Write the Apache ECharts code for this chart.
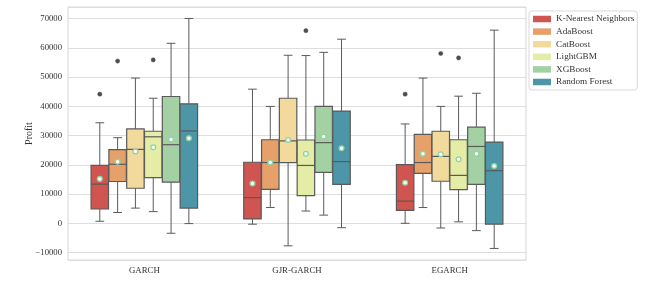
<!DOCTYPE html>
<html>
<head>
<meta charset="utf-8">
<script src="https://cdn.jsdelivr.net/npm/echarts@6/dist/echarts.min.js"></script>
<style>
html,body{margin:0;padding:0;background:#fff;}
#chart{width:662px;height:291px;}
</style>
</head>
<body>
<div id="chart"></div>
<script>
// ---- data ----
const categories = ['GARCH', 'GJR-GARCH', 'EGARCH'];
const models = ['K-Nearest Neighbors', 'AdaBoost', 'CatBoost', 'LightGBM', 'XGBoost', 'Random Forest'];
const colors = ['#d0544f', '#e5a169', '#f2da9c', '#e4eca5', '#a4d1a4', '#4c96a8'];

// [lower whisker, Q1, median, Q3, upper whisker] per category
const knnStats = [[700, 4900, 13400, 19800, 34400], [-300, 1500, 8800, 20900, 45900], [0, 4400, 7600, 20100, 34000]];
const adaStats = [[3700, 14300, 20200, 25200, 29300], [5400, 11600, 20800, 28600, 40000], [5400, 17100, 20800, 30400, 49700]];
const catStats = [[5200, 12000, 25300, 32300, 49700], [-7700, 20800, 28200, 42800, 57500], [-1600, 14400, 22900, 31500, 40000]];
const lgbmStats = [[4000, 15600, 29600, 31500, 42800], [4200, 9500, 19800, 28500, 57400], [500, 11500, 16400, 28600, 43500]];
const xgbStats = [[-3400, 14100, 26900, 43400, 61600], [2800, 17400, 27600, 40000, 58500], [-2500, 13300, 26300, 32900, 44500]];
const rfStats = [[-100, 5200, 31600, 40900, 70100], [-1500, 13300, 21100, 38400, 63000], [-8600, -300, 18000, 27800, 66100]];

const knnMeans = [15200, 13600, 13900];
const adaMeans = [21100, 20800, 23800];
const catMeans = [24600, 28500, 23600];
const lgbmMeans = [26000, 23800, 21900];
const xgbMeans = [28700, 29700, 23800];
const rfMeans = [29100, 25700, 19600];

// outliers: [category index, value]
const knnOutliers = [[0, 44200], [2, 44200]];
const adaOutliers = [[0, 55500]];
const catOutliers = [[2, 58100]];
const lgbmOutliers = [[0, 55900], [1, 65900], [2, 56600]];
const xgbOutliers = [];
const rfOutliers = [];

const yTicks = [-10000, 0, 10000, 20000, 30000, 40000, 50000, 60000, 70000];

const allStats = [knnStats, adaStats, catStats, lgbmStats, xgbStats, rfStats];
const allMeans = [knnMeans, adaMeans, catMeans, lgbmMeans, xgbMeans, rfMeans];
const allOutliers = [knnOutliers, adaOutliers, catOutliers, lgbmOutliers, xgbOutliers, rfOutliers];

const FONT = "'Liberation Serif', 'Times New Roman', serif";
const EDGE = '#5a5a5a';
const N = models.length;
const GROUP = 0.7;

function slotInfo(api, cat, hue) {
  const band = api.size([1, 0])[0];
  const slot = band * GROUP / N;
  const cx = api.coord([cat, 0])[0] + (hue - (N - 1) / 2) * slot;
  return { cx: cx, w: slot * 0.98 };
}

function boxRenderer(hue) {
  return function (params, api) {
    const cat = api.value(0);
    const s = slotInfo(api, cat, hue);
    const y = k => api.coord([cat, api.value(k)])[1];
    const yMin = y(1), yQ1 = y(2), yMed = y(3), yQ3 = y(4), yMax = y(5);
    const half = s.w / 2, cap = s.w / 4;
    const lineStyle = { stroke: EDGE, lineWidth: 1 };
    return {
      type: 'group',
      children: [
        { type: 'line', shape: { x1: s.cx, y1: yQ3, x2: s.cx, y2: yMax }, style: lineStyle },
        { type: 'line', shape: { x1: s.cx, y1: yQ1, x2: s.cx, y2: yMin }, style: lineStyle },
        { type: 'line', shape: { x1: s.cx - cap, y1: yMax, x2: s.cx + cap, y2: yMax }, style: lineStyle },
        { type: 'line', shape: { x1: s.cx - cap, y1: yMin, x2: s.cx + cap, y2: yMin }, style: lineStyle },
        { type: 'rect', shape: { x: s.cx - half, y: yQ3, width: s.w, height: yQ1 - yQ3 },
          style: { fill: colors[hue], stroke: EDGE, lineWidth: 1.2 } },
        { type: 'line', shape: { x1: s.cx - half, y1: yMed, x2: s.cx + half, y2: yMed },
          style: { stroke: EDGE, lineWidth: 1.2 } }
      ]
    };
  };
}

function pointRenderer(kind) {
  return function (params, api) {
    const cat = api.value(0), hue = api.value(1);
    const s = slotInfo(api, cat, hue);
    const p = api.coord([cat, api.value(2)]);
    if (kind === 'mean') {
      return { type: 'circle', shape: { cx: s.cx, cy: p[1], r: 2.4 },
        style: { fill: '#ffffff', stroke: '#8fd3a2', lineWidth: 1.3 } };
    }
    return { type: 'circle', shape: { cx: s.cx, cy: p[1], r: 2.1 },
      style: { fill: '#4d4d4d', stroke: '#4d4d4d', lineWidth: 0.5 } };
  };
}

const series = [];
models.forEach((name, h) => {
  series.push({
    name: name,
    type: 'custom',
    renderItem: boxRenderer(h),
    itemStyle: { color: colors[h] },
    encode: { x: 0, y: [1, 2, 3, 4, 5] },
    data: allStats[h].map((st, c) => [c].concat(st)),
    z: 2
  });
});
const meanData = [], outData = [];
models.forEach((name, h) => {
  allMeans[h].forEach((m, c) => meanData.push([c, h, m]));
  allOutliers[h].forEach(o => outData.push([o[0], h, o[1]]));
});
series.push({ name: 'outliers', type: 'custom', renderItem: pointRenderer('out'),
  encode: { x: 0, y: 2 }, data: outData, z: 3 });
series.push({ name: 'means', type: 'custom', renderItem: pointRenderer('mean'),
  encode: { x: 0, y: 2 }, data: meanData, z: 4 });

const chart = echarts.init(document.getElementById('chart'), null, { renderer: 'canvas' });
chart.setOption({
  animation: false,
  backgroundColor: '#ffffff',
  textStyle: { fontFamily: FONT },
  grid: { left: 68, right: 136, top: 7, bottom: 31, show: true, borderColor: '#d6d6d6', borderWidth: 1 },
  legend: {
    data: models.map(m => ({ name: m, icon: 'rect', itemStyle: { color: colors[models.indexOf(m)] } })),
    orient: 'vertical',
    left: 529, top: 11,
    padding: [2, 3, 2, 4],
    itemWidth: 18, itemHeight: 6.5, itemGap: 0.6,
    textStyle: { fontFamily: FONT, fontSize: 9.2, color: '#333', lineHeight: 12 },
    borderColor: '#d9d9d9', borderWidth: 1, borderRadius: 3,
    backgroundColor: '#ffffff',
    selectedMode: false
  },
  xAxis: {
    type: 'category',
    data: categories,
    axisLine: { show: false },
    axisTick: { show: false },
    axisLabel: { fontFamily: FONT, fontSize: 8.8, color: '#333', margin: 6 },
    splitLine: { show: false }
  },
  yAxis: {
    type: 'value',
    min: -12553, max: 74016,
    splitNumber: 8,
    name: 'Profit',
    nameLocation: 'middle',
    nameGap: 34,
    nameMoveOverlap: false,
    nameTextStyle: { fontFamily: FONT, fontSize: 10, color: '#333' },
    axisLine: { show: false },
    axisTick: { show: false },
    axisLabel: {
      fontFamily: FONT, fontSize: 8.7, color: '#333', margin: 6,
      showMinLabel: false, showMaxLabel: false,
      formatter: v => (yTicks.indexOf(v) >= 0 ? (v < 0 ? '\u2212' + Math.abs(v) : String(v)) : '')
    },
    splitLine: { lineStyle: { color: '#dedede', width: 1 } }
  },
  series: series
});
</script>
</body>
</html>
